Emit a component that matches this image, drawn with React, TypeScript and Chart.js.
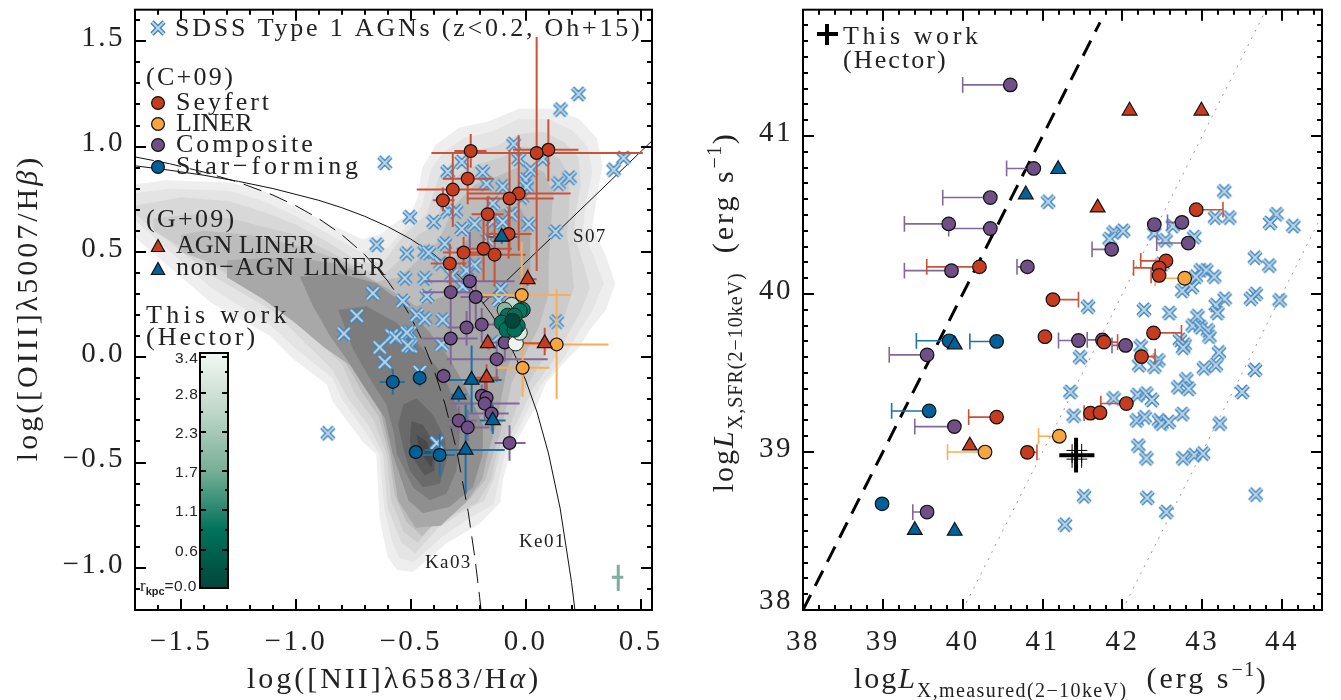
import React, { useEffect, useRef } from "react";
import { Chart, registerables } from "chart.js";
Chart.register(...registerables);

// ---- Left panel: density contours of the SDSS narrow-line galaxies (x, y)
const contour1 = [[-1.7,0.82],[-1.57,0.84],[-1.29,0.83],[-1.14,0.79],[-1.0,0.71],[-0.85,0.63],[-0.71,0.56],[-0.63,0.585],[-0.56,0.645],[-0.5,0.68],[-0.47,0.76],[-0.45,0.9],[-0.39,1.01],[-0.29,1.09],[-0.16,1.12],[-0.03,1.18],[0.12,1.18],[0.235,1.13],[0.31,1.04],[0.335,0.91],[0.31,0.76],[0.29,0.62],[0.35,0.48],[0.39,0.35],[0.35,0.225],[0.28,0.13],[0.235,0.05],[0.18,-0.01],[0.09,-0.12],[0.05,-0.225],[-0.01,-0.34],[-0.07,-0.46],[-0.1,-0.585],[-0.11,-0.69],[-0.2,-0.79],[-0.34,-0.88],[-0.49,-1.02],[-0.56,-1.01],[-0.6,-0.95],[-0.635,-0.77],[-0.65,-0.46],[-0.71,-0.4],[-0.84,-0.21],[-0.865,-0.13],[-1.01,-0.01],[-1.11,0.1],[-1.37,0.26],[-1.7,0.57]];
const contour2 = [[-1.7,0.78],[-1.55,0.8],[-1.29,0.79],[-1.14,0.74],[-1.0,0.67],[-0.85,0.58],[-0.72,0.5],[-0.6,0.52],[-0.52,0.62],[-0.45,0.72],[-0.41,0.9],[-0.35,0.98],[-0.27,1.04],[-0.15,1.07],[-0.03,1.13],[0.1,1.13],[0.2,1.08],[0.27,1.0],[0.29,0.88],[0.26,0.72],[0.25,0.6],[0.3,0.47],[0.34,0.35],[0.29,0.22],[0.23,0.12],[0.17,0.0],[0.06,-0.14],[0.01,-0.25],[-0.04,-0.36],[-0.09,-0.46],[-0.12,-0.6],[-0.14,-0.7],[-0.24,-0.76],[-0.36,-0.85],[-0.49,-0.975],[-0.55,-0.95],[-0.58,-0.88],[-0.615,-0.72],[-0.635,-0.46],[-0.7,-0.35],[-0.8,-0.2],[-0.84,-0.1],[-1.0,0.04],[-1.12,0.16],[-1.37,0.33],[-1.7,0.65]];
const contour3 = [[-1.7,0.72],[-1.5,0.76],[-1.29,0.74],[-1.14,0.69],[-1.0,0.63],[-0.85,0.54],[-0.72,0.45],[-0.62,0.45],[-0.53,0.58],[-0.43,0.68],[-0.38,0.85],[-0.32,0.93],[-0.25,0.98],[-0.13,1.0],[-0.03,1.06],[0.08,1.07],[0.17,1.02],[0.23,0.95],[0.24,0.82],[0.22,0.7],[0.21,0.58],[0.25,0.45],[0.28,0.33],[0.24,0.22],[0.19,0.12],[0.13,0.0],[0.03,-0.15],[-0.02,-0.27],[-0.07,-0.38],[-0.113,-0.46],[-0.14,-0.58],[-0.18,-0.68],[-0.28,-0.74],[-0.38,-0.81],[-0.48,-0.93],[-0.54,-0.88],[-0.6,-0.72],[-0.62,-0.46],[-0.68,-0.33],[-0.77,-0.2],[-0.84,-0.06],[-0.97,0.08],[-1.1,0.22],[-1.37,0.39],[-1.7,0.68]];
const contour4 = [[-1.62,0.66],[-1.42,0.68],[-1.25,0.65],[-1.0,0.58],[-0.85,0.5],[-0.72,0.42],[-0.62,0.39],[-0.54,0.47],[-0.47,0.58],[-0.4,0.62],[-0.34,0.8],[-0.28,0.88],[-0.2,0.92],[-0.1,0.95],[-0.02,1.0],[0.07,0.99],[0.15,0.94],[0.19,0.85],[0.19,0.72],[0.18,0.58],[0.2,0.44],[0.21,0.33],[0.17,0.2],[0.12,0.09],[0.07,-0.02],[-0.02,-0.18],[-0.06,-0.3],[-0.09,-0.38],[-0.126,-0.46],[-0.15,-0.58],[-0.21,-0.69],[-0.3,-0.74],[-0.4,-0.79],[-0.47,-0.88],[-0.53,-0.83],[-0.585,-0.68],[-0.605,-0.46],[-0.66,-0.3],[-0.74,-0.18],[-0.8,-0.03],[-0.95,0.12],[-1.1,0.26],[-1.37,0.44],[-1.62,0.6]];
const contour5 = [[-1.5,0.58],[-1.4,0.6],[-1.2,0.58],[-1.0,0.53],[-0.8,0.46],[-0.65,0.36],[-0.55,0.38],[-0.45,0.48],[-0.38,0.55],[-0.31,0.72],[-0.22,0.82],[-0.1,0.87],[0.0,0.92],[0.08,0.88],[0.12,0.78],[0.11,0.62],[0.1,0.45],[0.1,0.3],[0.06,0.15],[0.0,0.02],[-0.06,-0.12],[-0.11,-0.36],[-0.143,-0.46],[-0.175,-0.58],[-0.24,-0.67],[-0.38,-0.77],[-0.45,-0.85],[-0.52,-0.78],[-0.57,-0.65],[-0.595,-0.46],[-0.64,-0.28],[-0.71,-0.17],[-0.78,-0.03],[-0.9,0.08],[-1.02,0.18],[-1.2,0.33],[-1.3,0.42],[-1.5,0.5]];
const contour6 = [[-1.3,0.46],[-1.127,0.47],[-0.98,0.47],[-0.8,0.44],[-0.606,0.33],[-0.475,0.242],[-0.33,0.3],[-0.3,0.48],[-0.22,0.62],[-0.12,0.7],[-0.03,0.72],[0.02,0.62],[0.02,0.42],[0.0,0.25],[-0.03,0.08],[-0.08,-0.05],[-0.13,-0.33],[-0.165,-0.46],[-0.19,-0.58],[-0.26,-0.69],[-0.37,-0.8],[-0.48,-0.81],[-0.555,-0.68],[-0.587,-0.46],[-0.63,-0.26],[-0.68,-0.17],[-0.76,-0.04],[-0.88,0.05],[-1.0,0.16],[-1.135,0.27],[-1.3,0.38]];
const contour7 = [[-0.983,0.383],[-0.809,0.398],[-0.649,0.351],[-0.519,0.242],[-0.417,0.117],[-0.33,-0.008],[-0.258,-0.148],[-0.186,-0.32],[-0.187,-0.46],[-0.229,-0.617],[-0.33,-0.71],[-0.447,-0.741],[-0.51,-0.68],[-0.578,-0.46],[-0.613,-0.289],[-0.707,-0.133],[-0.78,-0.008],[-0.852,0.102],[-0.925,0.242]];
const contour8 = [[-0.816,0.226],[-0.693,0.242],[-0.562,0.164],[-0.447,0.039],[-0.36,-0.086],[-0.301,-0.226],[-0.287,-0.383],[-0.301,-0.539],[-0.345,-0.648],[-0.417,-0.679],[-0.49,-0.617],[-0.56,-0.46],[-0.575,-0.351],[-0.606,-0.226],[-0.678,-0.102],[-0.751,0.039]];
const contour9 = [[-0.533,-0.226],[-0.475,-0.195],[-0.403,-0.273],[-0.352,-0.383],[-0.345,-0.492],[-0.374,-0.601],[-0.447,-0.617],[-0.504,-0.539],[-0.533,-0.43],[-0.555,-0.32]];
const contour10 = [[-0.497,-0.304],[-0.447,-0.32],[-0.396,-0.414],[-0.396,-0.539],[-0.439,-0.562],[-0.483,-0.492],[-0.504,-0.398]];
const contour11 = [[-0.475,-0.367],[-0.432,-0.398],[-0.403,-0.476],[-0.41,-0.523],[-0.461,-0.445]];
const contours = [contour1, contour2, contour3, contour4, contour5, contour6, contour7, contour8, contour9, contour10, contour11];
const contourGreys = ["#eeeeee", "#e4e4e4", "#d8d8d8", "#cccccc", "#bcbcbc", "#a8a8a8", "#8f8f8f", "#7c7c7c", "#6a6a6a", "#585858", "#484848"];

// ---- Left panel: demarcation curves
const ke01 = [[-1.7,0.909],[-1.55,0.888],[-1.4,0.864],[-1.25,0.835],[-1.1,0.801],[-0.9,0.745],[-0.8,0.71],[-0.7,0.669],[-0.6,0.62],[-0.5,0.561],[-0.4,0.489],[-0.3,0.398],[-0.25,0.343],[-0.2,0.28],[-0.15,0.206],[-0.1,0.12],[-0.05,0.017],[0.0,-0.108],[0.05,-0.262],[0.1,-0.459],[0.15,-0.716],[0.2,-1.069],[0.22,-1.25]];
const ka03 = [[-1.7,0.951],[-1.55,0.919],[-1.4,0.879],[-1.25,0.831],[-1.1,0.77],[-1.0,0.719],[-0.9,0.658],[-0.8,0.582],[-0.7,0.487],[-0.6,0.362],[-0.55,0.283],[-0.5,0.191],[-0.45,0.08],[-0.4,-0.056],[-0.35,-0.225],[-0.3,-0.443],[-0.25,-0.733],[-0.22,-0.959],[-0.2,-1.14],[-0.19,-1.24]];
const s07 = [[-0.187,0.254],[0.55,1.0275]];

// ---- Left panel: [x, y, xLow, xHigh, yLow, yHigh]
const seyfertBpt = [[-0.239,0.979,-0.31,-0.17,0.9,1.06],[0.099,0.985,-0.055,0.23,0.835,1.13],[0.048,0.97,-0.41,0.51,0.41,1.52],[-0.252,0.848,-0.36,-0.14,0.726,0.96],[-0.317,0.796,-0.474,-0.16,0.618,0.974],[-0.36,0.745,-0.404,-0.309,0.693,0.806],[-0.03,0.777,-0.257,0.196,0.506,1.054],[-0.07,0.754,-0.257,0.122,0.501,0.984],[-0.165,0.679,-0.235,-0.096,0.506,0.763],[-0.074,0.585,-0.17,0.026,0.468,0.703],[-0.183,0.515,-0.3,-0.06,0.36,0.656],[-0.27,0.497,-0.36,-0.143,0.431,0.571],[-0.135,0.487,-0.243,0.0,0.337,0.665],[-0.33,0.445,-0.413,-0.257,0.342,0.539]];
const linerBpt = [[-0.017,0.295,-0.187,0.196,0.07,0.548],[0.135,0.061,-0.013,0.361,-0.197,0.323],[-0.013,-0.05,-0.126,0.104,-0.187,0.07]];
const agnLinerBpt = [[0.009,0.37,-0.017,0.048,0.34,0.42],[-0.165,0.066,-0.19,-0.14,0.04,0.09],[0.083,0.066,-0.013,0.139,0.009,0.14],[-0.17,-0.097,-0.222,-0.117,-0.164,-0.033]];
const nonAgnLinerBpt = [[-0.104,0.571,-0.17,-0.035,0.539,0.6],[-0.235,-0.108,-0.361,-0.104,-0.262,0.056],[-0.291,-0.178,-0.322,-0.257,-0.211,-0.14],[-0.143,-0.3,-0.2,-0.087,-0.365,-0.225],[-0.261,-0.44,-0.439,-0.091,-0.651,-0.225]];
const starFormingBpt = [[-0.578,-0.117,-0.635,-0.526,-0.178,-0.056],[-0.461,-0.098,-0.483,-0.439,-0.14,-0.06],[-0.478,-0.45,-0.51,-0.44,-0.47,-0.43],[-0.374,-0.464,-0.448,-0.309,-0.562,-0.365]];
const compositeBpt = [[-0.243,0.361,-0.439,-0.048,0.164,0.595],[-0.326,0.309,-0.448,-0.23,0.1,0.41],[-0.217,0.286,-0.283,-0.148,0.173,0.384],[-0.257,0.141,-0.339,-0.178,0.056,0.22],[-0.191,0.155,-0.222,-0.135,0.07,0.234],[-0.326,0.089,-0.448,-0.209,-0.037,0.29],[-0.126,-0.009,-0.343,0.096,-0.117,0.07],[-0.091,0.07,-0.17,-0.01,-0.02,0.16],[-0.357,-0.089,-0.385,-0.33,-0.13,-0.05],[-0.191,-0.183,-0.22,-0.16,-0.23,-0.13],[-0.17,-0.192,-0.2,-0.14,-0.25,-0.13],[-0.178,-0.22,-0.326,-0.026,-0.3,-0.1],[-0.148,-0.267,-0.257,-0.074,-0.351,-0.178],[-0.291,-0.3,-0.339,-0.213,-0.361,-0.234],[-0.252,-0.333,-0.339,-0.157,-0.398,-0.248],[-0.07,-0.407,-0.135,0.0,-0.492,-0.323]];
// [x, y, rKpc]
const hectorBpt = [[-0.043,0.066,3.3],[-0.026,0.117,3.0],[-0.061,0.248,2.6],[-0.091,0.225,1.9],[-0.013,0.225,0.95],[-0.026,0.22,0.9],[-0.078,0.197,0.85],[-0.035,0.15,0.85],[-0.104,0.164,0.8],[-0.083,0.131,0.8],[-0.048,0.197,0.8],[-0.048,0.131,0.8],[-0.057,0.173,0.0]];
const sdssBpt = [[-0.613,0.923],[-0.648,0.534],[-0.504,0.665],[-0.517,0.492],[-0.526,0.375],[-0.665,0.304],[-0.535,0.267],[0.23,1.25],[0.152,1.176],[-0.052,1.012],[0.426,0.946],[0.383,0.89],[-0.278,0.927],[-0.339,0.88],[-0.187,0.88],[-0.03,0.941],[0.074,0.941],[0.022,0.89],[0.0,0.843],[0.004,0.81],[0.191,0.852],[0.143,0.824],[-0.17,0.824],[-0.1,0.81],[-0.017,0.759],[-0.143,0.731],[-0.339,0.693],[-0.304,0.693],[-0.061,0.679],[-0.222,0.632],[-0.278,0.609],[-0.143,0.646],[-0.1,0.642],[0.013,0.632],[0.13,0.595],[-0.4,0.642],[-0.352,0.539],[-0.439,0.501],[-0.422,0.496],[-0.37,0.445],[-0.222,0.436],[-0.257,0.412],[-0.322,0.389],[-0.439,0.375],[-0.274,0.337],[-0.109,0.323],[-0.43,0.29],[-0.117,0.272],[-0.474,0.201],[-0.439,0.183],[-0.361,0.178],[-0.504,0.117],[-0.583,0.103],[-0.565,0.094],[-0.5,0.052],[-0.365,0.061],[-0.791,0.112],[-0.735,0.197],[-0.635,0.047],[-0.613,-0.023],[-0.517,0.117],[-0.513,0.056],[-0.861,-0.361],[-0.387,-0.407],[-0.461,-0.07],[0.135,0.169],[-0.143,0.07],[-0.165,0.56]];
const typicalError = [[0.403,-1.045,0.375,0.425,-1.11,-0.985]];

// ---- Right panel: [x, y, limitX]
const seyfertLx = [[40.21,40.172,39.55],[41.13,39.965,41.45],[41.03,39.73,null],[40.425,39.221,40.075],[40.81,38.998,40.93],[42.925,40.534,43.26],[42.546,40.21,42.23],[42.46,40.166,42.14],[42.46,40.118,42.36],[42.39,39.754,42.74],[41.77,39.696,41.94],[42.24,39.604,42.41],[41.6,39.246,41.52],[41.72,39.249,null],[42.05,39.307,41.73]];
const linerLx = [[42.78,40.1,42.41],[40.28,39.0,39.81],[41.21,39.1,40.95]];
const compositeLx = [[40.596,41.324,40.0],[40.89,40.795,40.55],[40.346,40.611,39.75],[39.825,40.444,39.27],[40.346,40.415,39.825],[39.86,40.148,39.27],[40.81,40.172,40.68],[39.554,39.615,39.08],[39.896,39.161,39.4],[39.554,38.62,39.375],[41.866,40.283,41.62],[42.4,40.44,null],[42.746,40.454,42.565],[42.825,40.323,42.43],[41.45,39.706,41.2],[41.75,39.71,41.56],[42.04,39.675,41.87]];
const starFormingLx = [[39.83,39.704,39.42],[40.425,39.7,40.09],[39.58,39.26,39.11],[38.99,38.672,null]];
const agnLinerLx = [[41.69,40.547],[42.09,41.16],[42.99,41.16],[40.09,39.04]];
const nonAgnLinerLx = [[41.196,40.79],[40.79,40.63],[39.9,39.68],[39.4,38.505],[39.9,38.5]];
const sdssLx = [[41.07,40.584],[43.275,40.65],[41.89,40.39],[42.01,40.4],[41.84,40.348],[42.4,40.385],[42.63,40.43],[42.54,40.34],[42.9,40.36],[43.16,40.484],[43.34,40.484],[43.93,40.505],[43.85,40.45],[44.14,40.43],[43.66,40.23],[43.84,40.18],[42.5,40.19],[42.98,40.15],[43.05,40.15],[43.15,40.11],[42.92,40.11],[42.87,40.045],[42.75,40.02],[43.28,39.97],[43.17,39.93],[43.19,39.88],[43.67,40.0],[43.61,39.97],[43.97,39.96],[41.57,39.92],[42.27,39.9],[42.59,39.88],[42.94,39.86],[42.88,39.8],[42.98,39.79],[43.07,39.77],[43.09,39.73],[42.72,39.71],[42.78,39.68],[42.76,39.66],[42.23,39.67],[43.21,39.63],[43.17,39.55],[43.02,39.53],[42.45,39.58],[42.4,39.54],[42.21,39.55],[41.47,39.6],[43.66,39.52],[42.8,39.46],[42.7,39.41],[42.83,39.4],[43.5,39.38],[41.35,39.38],[41.89,39.34],[42.19,39.36],[42.3,39.37],[42.37,39.33],[41.39,39.23],[42.18,39.2],[42.28,39.22],[42.46,39.2],[42.49,39.18],[42.58,39.19],[42.75,39.24],[43.22,39.18],[42.2,39.04],[42.3,38.96],[42.76,38.96],[42.9,38.98],[43.01,38.99],[41.52,38.72],[42.31,38.71],[42.55,38.62],[43.67,38.73],[41.28,38.54]];
const hectorMean = [[41.42,38.98,41.21,41.65,38.87,39.09]];
const hectorSpaxels = [[41.37,39.01,41.3,41.44,38.93,39.05],[41.49,39.01,41.42,41.56,38.93,39.05],[41.37,38.955,41.3,41.44,38.9,39.0],[41.49,38.955,41.42,41.56,38.9,39.0]];
const oneToOne = [[38,38],[41.72,41.72]];
const minusTwo = [[40,38],[43.8,41.8]];
const minusFour = [[42,38],[44.5,40.5]];

// ---- Colours
const RED = "#c73c1e", ORANGE = "#f9a53e", PURPLE = "#6f4f86", BLUE = "#00609a";
const RED_E = "#cc5236", ORANGE_E = "#f9ae55", PURPLE_E = "#826899", BLUE_E = "#1c71a8";
const SERIF = '"Liberation Serif"';
const INK = "#222222";

const cmapStops: [number, number[]][] = [[0, [0, 70, 58]], [0.25, [0, 115, 92]], [0.5, [120, 175, 150]], [0.75, [190, 215, 200]], [1, [243, 248, 243]]];
function cmap(f: number) {
  for (let i = 1; i < cmapStops.length; i++) {
    if (f <= cmapStops[i][0]) {
      const [a, ca] = cmapStops[i - 1], [b, cb] = cmapStops[i];
      const t = (f - a) / (b - a);
      return `rgb(${ca.map((c, k) => Math.round(c + (cb[k] - c) * t)).join(",")})`;
    }
  }
  return "rgb(243,248,243)";
}

const pts = (rows: any[][]) => rows.map(r => ({ x: r[0], y: r[1] }));
const GAP = { x: NaN, y: NaN };
function errPath(rows: number[][]) {
  const out: any[] = [];
  rows.forEach(([x, y, xl, xh, yl, yh]) => {
    out.push({ x: xl, y }, { x: xh, y }, GAP, { x, y: yl }, { x, y: yh }, GAP);
  });
  return out;
}
function limPath(rows: (number | null)[][]) {
  const out: any[] = [];
  rows.forEach(([x, y, lim]) => {
    if (lim == null) return;
    out.push({ x, y }, { x: lim, y }, GAP, { x: lim, y: (y as number) - 0.05 }, { x: lim, y: (y as number) + 0.05 }, GAP);
  });
  return out;
}

function crossSprite() {
  const c = document.createElement("canvas");
  c.width = 20; c.height = 20;
  const g = c.getContext("2d")!;
  const a = 10 - 6, b = 10 + 6;
  const path = () => { g.beginPath(); g.moveTo(a, a); g.lineTo(b, b); g.moveTo(b, a); g.lineTo(a, b); g.stroke(); };
  g.lineCap = "butt";
  g.strokeStyle = "#3a83bc"; g.lineWidth = 4.6; path();
  g.strokeStyle = "#bcd5e8"; g.lineWidth = 2.1; path();
  return c;
}

type Run = { t: string; f: string; dy?: number; ls?: number };
function drawRuns(ctx: CanvasRenderingContext2D, x: number, y: number, runs: Run[], rot = 0, center = false) {
  ctx.save();
  ctx.translate(x, y);
  ctx.rotate(rot);
  ctx.fillStyle = INK;
  ctx.textAlign = "left";
  ctx.textBaseline = "alphabetic";
  let total = 0;
  runs.forEach(r => { ctx.font = r.f; (ctx as any).letterSpacing = `${r.ls ?? 2}px`; total += ctx.measureText(r.t).width; });
  let cx = center ? -total / 2 : 0;
  runs.forEach(r => {
    ctx.font = r.f; (ctx as any).letterSpacing = `${r.ls ?? 2}px`;
    ctx.fillText(r.t, cx, r.dy ?? 0);
    cx += ctx.measureText(r.t).width;
  });
  ctx.restore();
}
const F = (s: number, style = "") => `${style} ${s}px ${SERIF}`;

function frameTicks(chart: any, xMajor: number, yMajor: number) {
  const { ctx, chartArea: a, scales } = chart;
  ctx.save();
  ctx.strokeStyle = "#000"; ctx.lineWidth = 2;
  ctx.strokeRect(a.left, a.top, a.right - a.left, a.bottom - a.top);
  const isMaj = (v: number, m: number) => Math.abs(v / m - Math.round(v / m)) < 1e-6;
  ctx.beginPath();
  scales.x.ticks.forEach((t: any) => {
    const p = Math.round(scales.x.getPixelForValue(t.value));
    if (p <= a.left + 1 || p >= a.right - 1) return;
    const l = isMaj(t.value, xMajor) ? 11 : 5;
    ctx.moveTo(p, a.bottom); ctx.lineTo(p, a.bottom - l);
    ctx.moveTo(p, a.top); ctx.lineTo(p, a.top + l);
  });
  scales.y.ticks.forEach((t: any) => {
    const p = Math.round(scales.y.getPixelForValue(t.value));
    if (p <= a.top + 1 || p >= a.bottom - 1) return;
    const l = isMaj(t.value, yMajor) ? 11 : 5;
    ctx.moveTo(a.left, p); ctx.lineTo(a.left + l, p);
    ctx.moveTo(a.right, p); ctx.lineTo(a.right - l, p);
  });
  ctx.stroke();
  ctx.restore();
}

function legendMark(ctx: CanvasRenderingContext2D, kind: "o" | "t", x: number, y: number, color: string) {
  ctx.save();
  ctx.fillStyle = color; ctx.strokeStyle = "#111"; ctx.lineWidth = 1.2;
  ctx.beginPath();
  if (kind === "o") ctx.arc(x, y, 6.4, 0, Math.PI * 2);
  else { ctx.moveTo(x - 6.6, y + 5.5); ctx.lineTo(x + 6.6, y + 5.5); ctx.lineTo(x, y - 6.5); ctx.closePath(); }
  ctx.fill(); ctx.stroke();
  ctx.restore();
}

const labelPlugin = (ls: number) => ({
  id: "spacing",
  beforeDraw(chart: any) { chart.ctx.letterSpacing = `${ls}px`; },
  afterDraw(chart: any) { chart.ctx.letterSpacing = "0px"; },
});

const leftAnnot = {
  id: "leftAnnot",
  afterDatasetsDraw(chart: any) {
    const ctx = chart.ctx as CanvasRenderingContext2D;
    frameTicks(chart, 0.5, 0.5);
    // legend
    ctx.drawImage(crossImg!, 158 - 10, 28 - 10);
    const L = F(26);
    drawRuns(ctx, 175, 36, [{ t: "SDSS Type 1 AGNs (z<0.2, Oh+15)", f: L, ls: 2.8 }]);
    drawRuns(ctx, 146, 85, [{ t: "(C+09)", f: L, ls: 2.3 }]);
    const rows: [string, string, number, number, number][] = [["Seyfert", RED, 103, 110, 3], ["LINER", ORANGE, 124, 131, 0], ["Composite", PURPLE, 145, 152, 3], ["Star\u2212forming", BLUE, 167, 174, 3.8]];
    rows.forEach(([t, c, my, by, ls]) => { legendMark(ctx, "o", 158, my, c); drawRuns(ctx, 176, by, [{ t, f: L, ls }]); });
    drawRuns(ctx, 146, 227, [{ t: "(G+09)", f: L, ls: 2.3 }]);
    legendMark(ctx, "t", 158, 246, RED); drawRuns(ctx, 176, 253, [{ t: "AGN LINER", f: L, ls: 0 }]);
    legendMark(ctx, "t", 158, 269, BLUE); drawRuns(ctx, 176, 275, [{ t: "non\u2212AGN LINER", f: L, ls: 1.4 }]);
    drawRuns(ctx, 146, 323, [{ t: "This work", f: L, ls: 4.3 }]);
    drawRuns(ctx, 146, 345, [{ t: "(Hector)", f: L, ls: 3 }]);
    drawRuns(ctx, 573, 242, [{ t: "S07", f: F(19), ls: 1.4 }]);
    drawRuns(ctx, 519, 547, [{ t: "Ke01", f: F(19), ls: 1.4 }]);
    drawRuns(ctx, 425, 568, [{ t: "Ka03", f: F(19), ls: 1.4 }]);
    // colour bar
    const x0 = 200, x1 = 228, y0 = 353, y1 = 588;
    const grad = ctx.createLinearGradient(0, y1, 0, y0);
    cmapStops.forEach(([f]) => grad.addColorStop(f, cmap(f)));
    ctx.save();
    ctx.fillStyle = grad; ctx.fillRect(x0, y0, x1 - x0, y1 - y0);
    ctx.strokeStyle = "#000"; ctx.lineWidth = 2; ctx.strokeRect(x0, y0, x1 - x0, y1 - y0);
    const cbLabels: [string, number][] = [["3.4", 357], ["2.8", 393], ["2.3", 432], ["1.7", 471], ["1.1", 510], ["0.6", 550]];
    ctx.beginPath();
    cbLabels.forEach(([, y]) => { ctx.moveTo(x0, y); ctx.lineTo(x0 + 6, y); ctx.moveTo(x1, y); ctx.lineTo(x1 - 6, y); });
    [372, 412, 451, 490, 530, 569].forEach(y => { ctx.moveTo(x0, y); ctx.lineTo(x0 + 3, y); ctx.moveTo(x1, y); ctx.lineTo(x1 - 3, y); });
    ctx.stroke();
    ctx.restore();
    const SF = '15.5px "Liberation Sans"';
    cbLabels.forEach(([t, y]) => drawRuns(ctx, 175, y + 6, [{ t, f: SF, ls: 0.6 }]));
    drawRuns(ctx, 140, 591, [{ t: "r", f: '17px "Liberation Serif"', ls: 0 }, { t: "kpc", f: 'bold 11px "Liberation Sans"', dy: 4, ls: 0 }, { t: "=0.0", f: SF, ls: 0.4 }]);
    // axis titles
    const T = F(30), TI = F(30, "italic");
    drawRuns(ctx, 394, 688, [{ t: "log([NII]\u03BB6583/H", f: T, ls: 3 }, { t: "\u03B1", f: TI, ls: 3 }, { t: ")", f: T, ls: 3 }], 0, true);
    drawRuns(ctx, 37, 308, [{ t: "log([OIII]\u03BB5007/H", f: T, ls: 3 }, { t: "\u03B2", f: TI, ls: 3 }, { t: ")", f: T, ls: 3 }], -Math.PI / 2, true);
  },
};

const rightAnnot = {
  id: "rightAnnot",
  afterDatasetsDraw(chart: any) {
    const ctx = chart.ctx as CanvasRenderingContext2D;
    frameTicks(chart, 1, 1);
    // legend: thick plus (canvas offset 670)
    ctx.save();
    ctx.fillStyle = "#000";
    ctx.fillRect(817 - 670, 32, 21, 4);
    ctx.fillRect(825 - 670, 24, 4, 21);
    ctx.restore();
    drawRuns(ctx, 843 - 670, 44, [{ t: "This work", f: F(26), ls: 3.6 }]);
    drawRuns(ctx, 843 - 670, 68, [{ t: "(Hector)", f: F(26), ls: 2.1 }]);
    const T = F(30), TI = F(30, "italic"), S = F(20), E = F(20);
    drawRuns(ctx, 1061 - 670, 688, [
      { t: "log", f: T, ls: 2 }, { t: "L", f: TI, ls: 2 },
      { t: "X,measured(2\u221210keV)", f: S, dy: 9, ls: 1.4 },
      { t: "  ", f: T, ls: 2 },
      { t: "(erg s", f: T, ls: 3 }, { t: "\u22121", f: E, dy: -12, ls: 1.5 }, { t: ")", f: T, ls: 2.5 },
    ], 0, true);
    drawRuns(ctx, 733 - 670, 312, [
      { t: "log", f: T, ls: 2 }, { t: "L", f: TI, ls: 2 },
      { t: "X,SFR(2\u221210keV)", f: S, dy: 9, ls: 1 },
      { t: "  ", f: T, ls: 2 },
      { t: "(erg s", f: T, ls: 3 }, { t: "\u22121", f: E, dy: -12, ls: 1.5 }, { t: ")", f: T, ls: 2.5 },
    ], -Math.PI / 2, true);
  },
};

let crossImg: HTMLCanvasElement | null = null;

function scaleOpts(axis: "x" | "y", min: number, max: number, step: number, major: number, fixed: number, fmt: (v: number) => any, padding: number, lineHeight = 1.2) {
  return {
    type: "linear", position: axis === "x" ? "bottom" : "left", min, max,
    border: { display: false },
    grid: { display: false, drawTicks: false, drawOnChartArea: false },
    ticks: {
      stepSize: step, autoSkip: false, maxRotation: 0, minRotation: 0, includeBounds: false,
      padding, color: INK, font: { family: SERIF, size: 29, lineHeight },
      callback: (v: any) => (Math.abs(v / major - Math.round(v / major)) < 1e-6 ? fmt(v) : ""),
    },
    afterFit(s: any) {
      if (axis === "x") s.height = fixed; else s.width = fixed;
      s.paddingTop = s.paddingBottom = s.paddingLeft = s.paddingRight = 0;
    },
  };
}

const markerDs = (rows: any[][], color: string, style: string, r: number) => ({
  data: pts(rows), pointStyle: style, pointRadius: r, pointBackgroundColor: color, pointBorderColor: "#111", pointBorderWidth: 1.2, showLine: false,
});
const lineDs = (data: any[], color: string, width: number, dash: number[] = []) => ({
  data, showLine: true, pointRadius: 0, borderColor: color, borderWidth: width, borderDash: dash, fill: false, tension: 0, borderCapStyle: "butt",
});

export default function App() {
  const leftRef = useRef<HTMLCanvasElement>(null);
  const rightRef = useRef<HTMLCanvasElement>(null);

  useEffect(() => {
    crossImg = crossSprite();
    const sprite = crossImg;
    const left: any[] = [];
    let ord = 1000;
    const add = (list: any[], d: any) => { d.order = ord--; list.push(d); };

    contours.forEach((c, i) => add(left, {
      data: pts(c.concat([c[0]])), showLine: true, pointRadius: 0, borderWidth: 0, borderColor: contourGreys[i], backgroundColor: contourGreys[i], fill: "shape", tension: 0,
    }));
    add(left, lineDs(pts(ke01), "#111", 1));
    add(left, lineDs(pts(ka03), "#111", 1, [19, 9]));
    add(left, lineDs(pts(s07), "#111", 1));
    add(left, { data: pts(sdssBpt), showLine: false, pointStyle: sprite, pointRadius: 6 });
    add(left, lineDs(errPath(compositeBpt), PURPLE_E, 2));
    add(left, lineDs(errPath(starFormingBpt), BLUE_E, 2));
    add(left, lineDs(errPath(nonAgnLinerBpt), BLUE_E, 2));
    add(left, lineDs(errPath(seyfertBpt), RED_E, 2));
    add(left, lineDs(errPath(linerBpt), ORANGE_E, 2));
    add(left, lineDs(errPath(agnLinerBpt), RED_E, 2));
    add(left, lineDs(errPath(typicalError), "#7fae9c", 3));
    add(left, markerDs(compositeBpt, PURPLE, "circle", 6.4));
    add(left, markerDs(starFormingBpt, BLUE, "circle", 6.4));
    add(left, markerDs(seyfertBpt, RED, "circle", 6.4));
    add(left, markerDs(linerBpt, ORANGE, "circle", 6.4));
    add(left, markerDs(agnLinerBpt, RED, "triangle", 8.5));
    add(left, markerDs(nonAgnLinerBpt, BLUE, "triangle", 8.5));
    add(left, {
      data: pts(hectorBpt), showLine: false, pointStyle: "circle", pointRadius: 7.6,
      pointBackgroundColor: hectorBpt.map(r => cmap(r[2] / 3.4)), pointBorderColor: "#222", pointBorderWidth: 1,
    });

    const common = { responsive: false, animation: false, devicePixelRatio: 1, plugins: { legend: { display: false }, tooltip: { enabled: false } } };
    const fmtX = (v: number) => (v < 0 ? "\u2212" : "") + Math.abs(v).toFixed(1);
    const fmtY = (v: number) => [fmtX(v), ""];
    const c1 = new Chart(leftRef.current!, {
      type: "scatter",
      data: { datasets: left },
      options: {
        ...common,
        layout: { padding: { top: 2, right: 18, left: 0, bottom: 0 } },
        scales: {
          x: scaleOpts("x", -1.7, 0.55, 0.1, 0.5, 90, fmtX, 15),
          y: scaleOpts("y", -1.2, 1.65, 0.1, 0.5, 135, fmtY, 10, 0.2),
        },
      } as any,
      plugins: [labelPlugin(2.5), leftAnnot],
    } as any);

    ord = 1000;
    const right: any[] = [];
    add(right, lineDs(pts(oneToOne), "#000", 3, [17, 10]));
    add(right, lineDs(pts(minusTwo), "#999", 1, [2, 6]));
    add(right, lineDs(pts(minusFour), "#999", 1, [2, 6]));
    add(right, { data: pts(sdssLx), showLine: false, pointStyle: sprite, pointRadius: 6 });
    add(right, lineDs(errPath(hectorSpaxels), "#000", 1));
    add(right, lineDs(errPath(hectorMean), "#000", 4));
    add(right, lineDs(limPath(compositeLx), PURPLE_E, 1.6));
    add(right, lineDs(limPath(starFormingLx), BLUE_E, 1.6));
    add(right, lineDs(limPath(seyfertLx), RED_E, 1.6));
    add(right, lineDs(limPath(linerLx), ORANGE_E, 1.6));
    add(right, markerDs(compositeLx, PURPLE, "circle", 6.8));
    add(right, markerDs(starFormingLx, BLUE, "circle", 6.8));
    add(right, markerDs(seyfertLx, RED, "circle", 6.8));
    add(right, markerDs(linerLx, ORANGE, "circle", 6.8));
    add(right, markerDs(agnLinerLx, RED, "triangle", 8.5));
    add(right, markerDs(nonAgnLinerLx, BLUE, "triangle", 8.5));

    const c2 = new Chart(rightRef.current!, {
      type: "scatter",
      data: { datasets: right },
      options: {
        ...common,
        layout: { padding: { top: 3, right: 19, left: 0, bottom: 0 } },
        scales: {
          x: scaleOpts("x", 38, 44.5, 0.2, 1, 90, (v: number) => String(Math.round(v)), 15),
          y: scaleOpts("y", 38, 41.8, 0.1, 1, 133, (v: number) => (Math.round(v) === 38 ? ["38", "", "", ""] : [String(Math.round(v)), ""]), 10, 0.2),
        },
      } as any,
      plugins: [labelPlugin(2.5), rightAnnot],
    } as any);

    return () => { c1.destroy(); c2.destroy(); };
  }, []);

  return (
    <div style={{ position: "absolute", left: 0, top: 0, width: 1341, height: 700, background: "#fff" }}>
      <canvas ref={leftRef} width={670} height={700} style={{ position: "absolute", left: 0, top: 0, width: 670, height: 700 }} />
      <canvas ref={rightRef} width={671} height={700} style={{ position: "absolute", left: 670, top: 0, width: 671, height: 700 }} />
    </div>
  );
}
